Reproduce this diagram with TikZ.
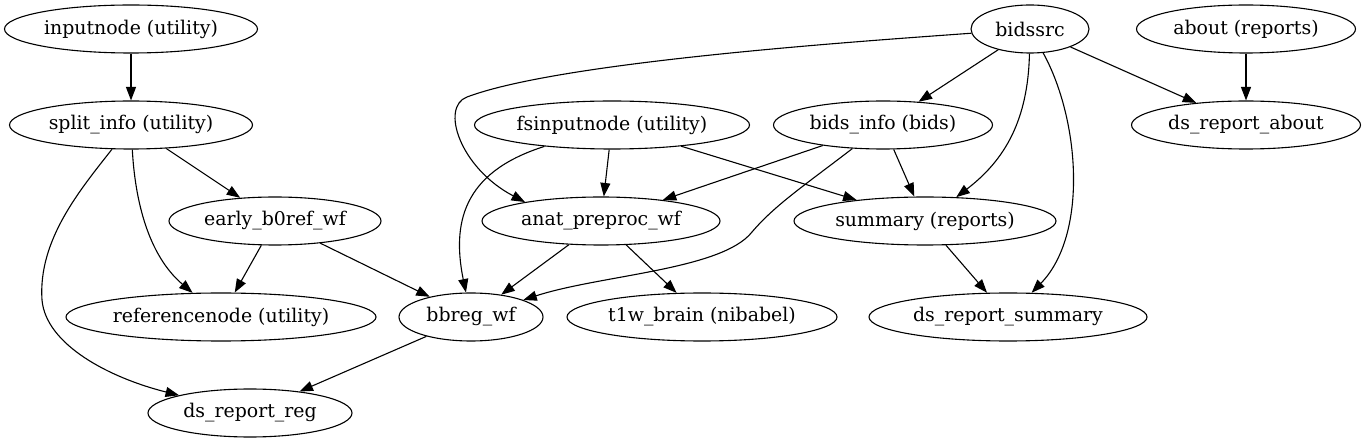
\documentclass[tikz,border=0pt]{standalone}
\usepackage{fontspec}
\setmainfont{DejaVu Serif}
\usetikzlibrary{arrows.meta,shapes.geometric}
\begin{document}
\begin{tikzpicture}[x=1pt,y=-1pt,
  gnode/.style={draw, ellipse, line width=1.1pt, inner sep=0pt, minimum height=48pt,
    font=\fontsize{18.9}{22}\selectfont},
  edge/.style={draw, line width=1.1pt, -{Triangle[length=13.5pt,width=10pt]}}]
\useasboundingbox (0,0) rectangle (1368,443);
% nodes
\node[gnode, minimum width=253pt] (inputnode) at (131,29) {inputnode (utility)};
\node[gnode, minimum width=243pt] (split) at (131,125) {split\_info (utility)};
\node[gnode, minimum width=118pt] (bidssrc) at (1030,29) {bidssrc};
\node[gnode, minimum width=219pt] (about) at (1246,29) {about (reports)};
\node[gnode, minimum width=275pt] (fsin) at (612,125) {fsinputnode (utility)};
\node[gnode, minimum width=219pt] (bidsinfo) at (883,125) {bids\_info (bids)};
\node[gnode, minimum width=229pt] (dsabout) at (1246,125) {ds\_report\_about};
\node[gnode, minimum width=212pt] (early) at (275,221) {early\_b0ref\_wf};
\node[gnode, minimum width=238pt] (anat) at (601,221) {anat\_preproc\_wf};
\node[gnode, minimum width=262pt] (summary) at (925,221) {summary (reports)};
\node[gnode, minimum width=310pt] (refnode) at (221,317) {referencenode (utility)};
\node[gnode, minimum width=144pt] (bbreg) at (471,317) {bbreg\_wf};
\node[gnode, minimum width=270pt] (t1w) at (702,317) {t1w\_brain (nibabel)};
\node[gnode, minimum width=278pt] (dssummary) at (1008,317) {ds\_report\_summary};
\node[gnode, minimum width=204pt] (dsreg) at (250,413) {ds\_report\_reg};
% straight edges
\path[edge] (inputnode) -- (split);
\path[edge] (split) -- (early);
\path[edge] (early) -- (refnode);
\path[edge] (early) -- (bbreg);
\path[edge] (bbreg) -- (dsreg);
\path[edge] (fsin) -- (anat);
\path[edge] (fsin) -- (summary);
\path[edge] (bidsinfo) -- (anat);
\path[edge] (bidsinfo) -- (summary);
\path[edge] (bidssrc) -- (bidsinfo);
\path[edge] (bidssrc) -- (dsabout);
\path[edge] (about) -- (dsabout);
\path[edge] (anat) -- (bbreg);
\path[edge] (anat) -- (t1w);
\path[edge] (summary) -- (dssummary);
% curved edges
\path[edge] (split) .. controls (135,200) and (148,255) .. (refnode);
\path[edge] (split) .. controls (80,190) and (38,240) .. (42,300)
   .. controls (46,345) and (110,378) .. (dsreg);
\path[edge] (fsin) .. controls (470,170) and (450,215) .. (bbreg);
\path[edge] (bidsinfo) .. controls (805,185) and (775,205) .. (752,232)
   .. controls (722,270) and (600,275) .. (bbreg);
\path[edge] (bidssrc) .. controls (850,42) and (560,62) .. (467,97)
   .. controls (440,107) and (460,168) .. (anat.166);
\path[edge] (bidssrc) .. controls (1028,120) and (1005,160) .. (summary);
\path[edge] (bidssrc) .. controls (1080,120) and (1088,235) .. (dssummary);
\end{tikzpicture}
\end{document}
